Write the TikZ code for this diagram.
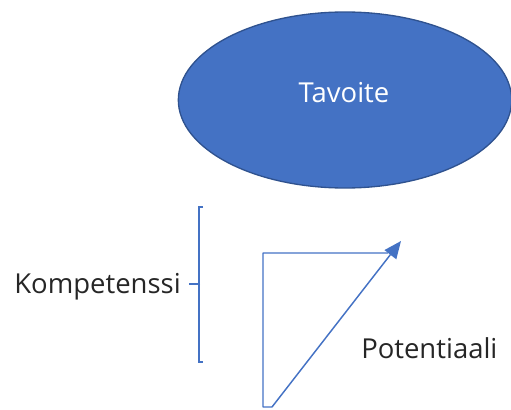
\documentclass[tikz,border=0pt]{standalone}
\usepackage{fontspec}
\setmainfont{Open Sans}
\usetikzlibrary{shapes.geometric,arrows.meta}
\definecolor{accent}{HTML}{4472C4}
\definecolor{accentdark}{HTML}{2F528F}
\tikzset{
  goal/.style={ellipse, fill=accent, draw=accentdark, line width=1pt, minimum width=250pt, minimum height=132pt, inner sep=0pt},
  lbl/.style={inner sep=0pt, font=\fontsize{20.6}{25}\selectfont, text=black!85},
  bluel/.style={draw=accent, line width=1.1pt}
}
\begin{document}
\begin{tikzpicture}[x=0.75pt,y=-0.75pt]
\useasboundingbox (0,0) rectangle (511,410);
\node[goal] (goal) at (345,100) {};
\node[lbl, text=white, anchor=base] (tav) at (344,103) {Tavoite};
% bracket
\coordinate (bt) at (203,207);
\coordinate (bb) at (203,362);
\coordinate (bm) at (200,284);
\coordinate (tick) at (189,284);
\draw[bluel] (bt) -- (199,207) -- (199,362) -- (bb);
\draw[bluel] (bm) -- (tick);
\node[lbl, anchor=base east] (komp) at (181,293) {Kompetenssi};
% triangle arrow
\coordinate (a0) at (388,253);
\coordinate (a1) at (263,253);
\coordinate (a2) at (263,407);
\coordinate (a3) at (272,407);
\coordinate (a4) at (401,241);
\draw[bluel, line join=round, -{Triangle[length=13pt,width=11pt]}] (a0) -- (a1) -- (a2) -- (a3) -- (a4);
\node[lbl, anchor=base west] (pot) at (361,358) {Potentiaali};
\end{tikzpicture}
\end{document}
